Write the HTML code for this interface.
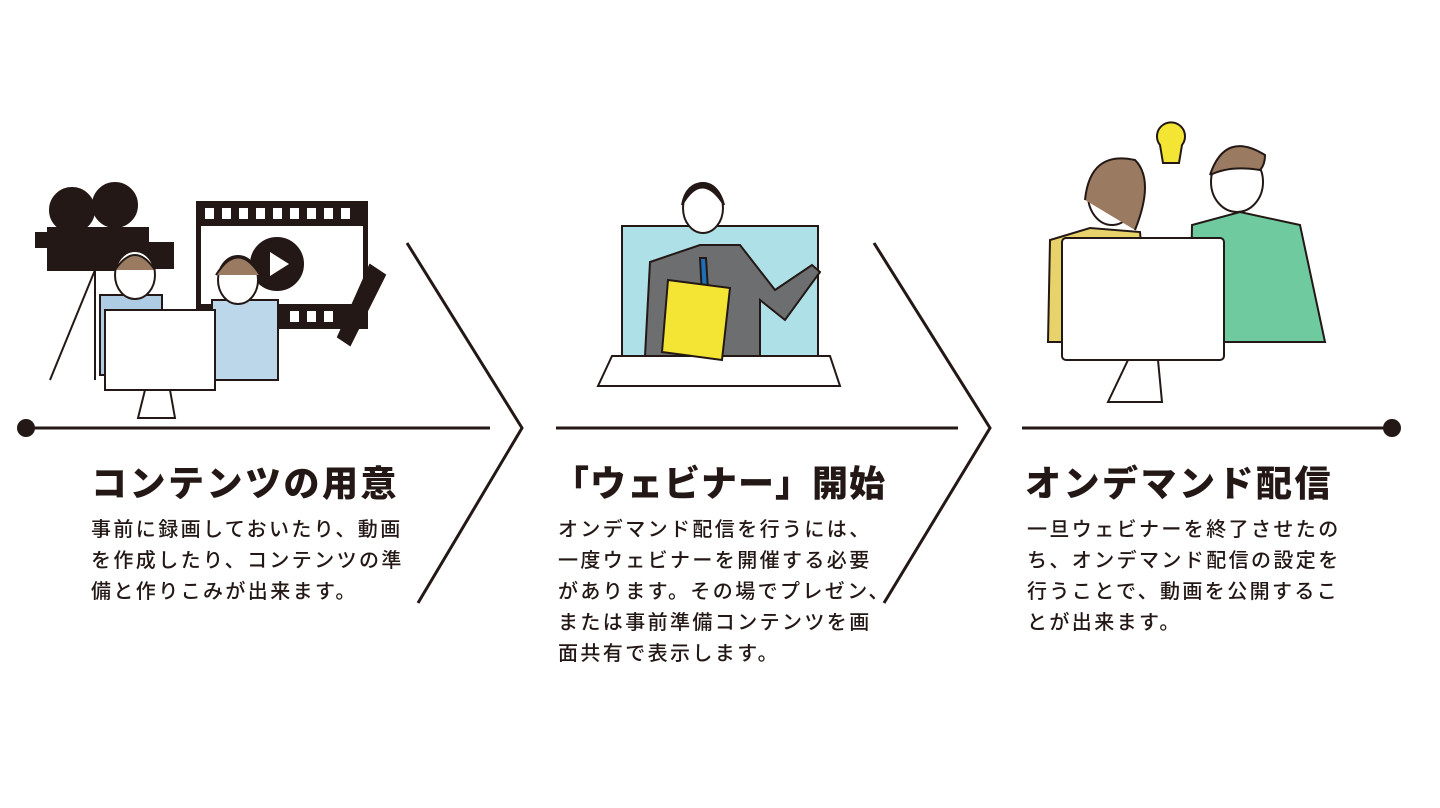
<!DOCTYPE html>
<html><head><meta charset="utf-8"><style>
body{margin:0;width:1440px;height:808px;background:#fff;position:relative;overflow:hidden;font-family:"Liberation Sans","Noto Sans CJK JP",sans-serif;color:#231815}
.t{position:absolute;font-size:36px;font-weight:900;letter-spacing:2.5px;white-space:nowrap}
.b{position:absolute;font-size:20px;line-height:31px;letter-spacing:2.4px;white-space:nowrap;font-weight:500}
svg{position:absolute;left:0;top:0}
</style></head><body>
<svg width="1440" height="808">
<g stroke="#231815" stroke-width="3" fill="none">
<line x1="26" y1="428" x2="490" y2="428"/>
<line x1="556" y1="428" x2="958" y2="428"/>
<line x1="1022" y1="428" x2="1392" y2="428"/>
<polyline points="407,243 522,428 418,603"/>
<polyline points="874,243 990,428 884,603"/>
</g>
<circle cx="26" cy="428" r="9" fill="#231815"/>
<circle cx="1392" cy="428" r="9" fill="#231815"/>
<g stroke="#231815" stroke-width="2">
<circle cx="72" cy="210" r="22" fill="#231815"/><circle cx="115" cy="205" r="22" fill="#231815"/>
<rect x="48" y="228" width="100" height="42" fill="#231815"/>
<rect x="36" y="233" width="14" height="14" fill="#231815"/>
<rect x="148" y="243" width="25" height="25" fill="#231815"/>
<line x1="95" y1="270" x2="50" y2="380"/><line x1="95" y1="270" x2="95" y2="380"/>
<rect x="197" y="202" width="170" height="126" fill="#231815"/>
<rect x="200" y="225" width="164" height="80" fill="#fff"/>
</g>
<g fill="#fff">
<rect x="205" y="208" width="9" height="11"/><rect x="222" y="208" width="9" height="11"/><rect x="239" y="208" width="9" height="11"/><rect x="256" y="208" width="9" height="11"/><rect x="273" y="208" width="9" height="11"/><rect x="290" y="208" width="9" height="11"/><rect x="307" y="208" width="9" height="11"/><rect x="324" y="208" width="9" height="11"/><rect x="341" y="208" width="9" height="11"/>
<rect x="290" y="311" width="9" height="11"/><rect x="307" y="311" width="9" height="11"/><rect x="324" y="311" width="9" height="11"/>
</g>
<g stroke="#231815" stroke-width="2">
<circle cx="277" cy="264" r="26" fill="#231815"/>
<polygon points="270,252 270,276 289,264" fill="#fff" stroke="none"/>
<polygon points="370,265 385,275 350,345 338,337" fill="#231815"/>
<rect x="100" y="295" width="62" height="80" fill="#aecde4"/>
<ellipse cx="135" cy="275" rx="20" ry="24" fill="#fff"/>
<path d="M115 270 q20 -30 40 0" fill="#9a7a60"/>
<rect x="212" y="300" width="66" height="80" fill="#bcd6ea"/>
<ellipse cx="238" cy="280" rx="20" ry="24" fill="#fff"/>
<path d="M216 275 q22 -35 44 0" fill="#9a7a60"/>
<rect x="105" y="310" width="110" height="80" fill="#fff"/>
<polygon points="145,390 170,390 175,418 138,418" fill="#fff"/>
</g>
<g stroke="#231815" stroke-width="2">
<rect x="622" y="226" width="196" height="130" fill="#aee0e8"/>
<polygon points="612,356 830,356 840,386 598,386" fill="#fff"/>
<path d="M645 356 L650 262 L700 245 L740 245 L775 290 L812 265 L820 272 L785 320 L760 300 L760 356Z" fill="#6d6e70"/>
<ellipse cx="703" cy="208" rx="20" ry="25" fill="#fff"/>
<path d="M682 205 q20 -35 42 0 q-5 -20 -20 -22 q-18 0 -22 22" fill="#231815"/>
<polygon points="700,258 706,258 708,290 702,295" fill="#1d6fb8"/>
<polygon points="668,280 730,288 722,360 662,352" fill="#f4e535"/>
</g>
<g stroke="#231815" stroke-width="2">
<path d="M1048 342 L1050 240 L1090 228 L1140 232 L1150 342Z" fill="#e8d36a"/>
<path d="M1190 342 L1192 225 L1240 212 L1300 225 L1325 342Z" fill="#6fcb9f"/>
<ellipse cx="1112" cy="195" rx="24" ry="30" fill="#fff"/>
<path d="M1085 200 q5 -50 50 -40 q20 20 0 70" fill="#9a7a60"/>
<ellipse cx="1237" cy="182" rx="26" ry="30" fill="#fff"/>
<path d="M1210 175 q15 -45 55 -20 q0 10 -5 15 q-30 -5 -50 5" fill="#9a7a60"/>
<path d="M1160 145 a14 14 0 1 1 22 0 l-3 18 h-16z" fill="#f4e535"/>
<rect x="1062" y="238" width="162" height="122" rx="4" fill="#fff"/>
<polygon points="1128,360 1158,360 1162,402 1108,402" fill="#fff"/>
</g>
</svg>
<div class="t" style="left:91px;top:455px">コンテンツの用意</div>
<div class="b" style="left:91px;top:515px">事前に録画しておいたり、動画<br>を作成したり、コンテンツの準<br>備と作りこみが出来ます。</div>
<div class="t" style="left:553px;top:455px;letter-spacing:1px">「ウェビナー」開始</div>
<div class="b" style="left:558px;top:515px">オンデマンド配信を行うには、<br>一度ウェビナーを開催する必要<br>があります。その場でプレゼン、<br>または事前準備コンテンツを画<br>面共有で表示します。</div>
<div class="t" style="left:1025px;top:455px">オンデマンド配信</div>
<div class="b" style="left:1027px;top:515px">一旦ウェビナーを終了させたの<br>ち、オンデマンド配信の設定を<br>行うことで、動画を公開するこ<br>とが出来ます。</div>
</body></html>
